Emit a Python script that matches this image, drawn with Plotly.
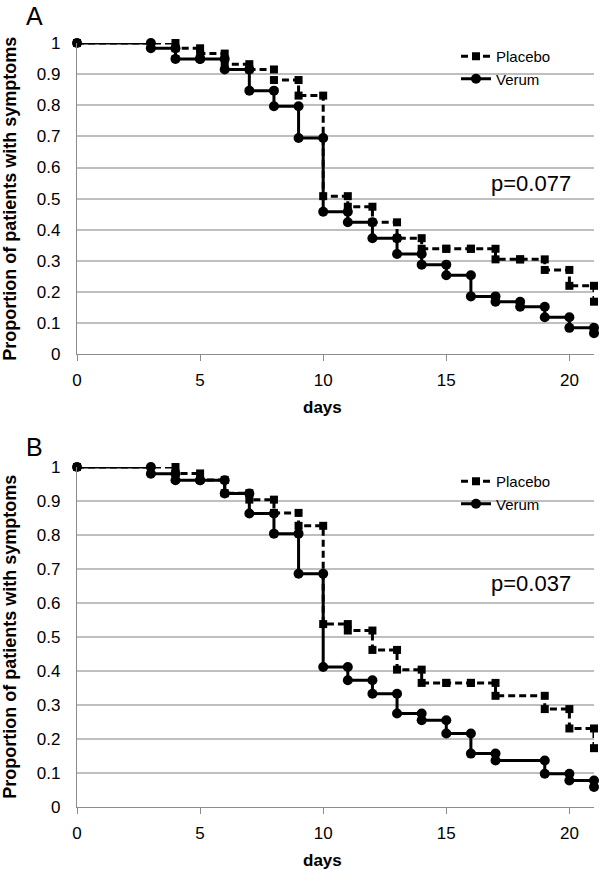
import plotly.graph_objects as go

# ---------------- data ----------------
tick_days = [0, 5, 10, 15, 20]

# Panel A
a_placebo_days = [0, 4, 5, 6, 7, 8, 9, 10, 11, 12, 13, 14, 15, 16, 17, 18, 19, 20, 21]
a_placebo_vals = [1.0, 0.983, 0.966, 0.932, 0.915, 0.881, 0.831, 0.508, 0.474, 0.424,
                  0.373, 0.339, 0.339, 0.339, 0.305, 0.305, 0.271, 0.220, 0.169]
a_verum_days = [0, 3, 4, 5, 6, 7, 8, 9, 10, 11, 12, 13, 14, 15, 16, 17, 18, 19, 20, 21]
a_verum_vals = [1.0, 0.983, 0.949, 0.949, 0.915, 0.847, 0.797, 0.695, 0.458, 0.424,
                0.373, 0.322, 0.288, 0.254, 0.186, 0.169, 0.153, 0.119, 0.085, 0.068]

# Panel B
b_placebo_days = [0, 4, 5, 6, 7, 8, 9, 10, 11, 12, 13, 14, 15, 16, 17, 19, 20, 21]
b_placebo_vals = [1.0, 0.981, 0.962, 0.923, 0.904, 0.865, 0.827, 0.538, 0.519, 0.462,
                  0.404, 0.365, 0.365, 0.365, 0.327, 0.288, 0.231, 0.173]
b_verum_days = [0, 3, 4, 5, 6, 7, 8, 9, 10, 11, 12, 13, 14, 15, 16, 17, 19, 20, 21]
b_verum_vals = [1.0, 0.980, 0.961, 0.961, 0.922, 0.863, 0.804, 0.686, 0.412, 0.373,
                0.333, 0.275, 0.255, 0.216, 0.157, 0.137, 0.098, 0.078, 0.059]

p_text_a = "p=0.077"
p_text_b = "p=0.037"
series_names = ["Placebo", "Verum"]
y_title = "Proportion of patients with symptoms"
x_title = "days"

# ---------------- helpers ----------------
W, H = 600, 869
L, R, T, B = 77, 6, 43, 62
PW, PH = W - L - R, H - T - B


def px_x(px):
    return (px - L) / PW


def px_y(py):
    return (H - B - py) / PH


def steps(days, vals):
    xs, ys = [days[0]], [vals[0]]
    for i in range(1, len(days)):
        xs += [days[i], days[i]]
        ys += [vals[i - 1], vals[i]]
    return xs, ys


FONT = "Liberation Sans, Arial, sans-serif"

fig = go.Figure()

panels = [
    ("x", "y", "legend", a_placebo_days, a_placebo_vals, a_verum_days, a_verum_vals),
    ("x2", "y2", "legend2", b_placebo_days, b_placebo_vals, b_verum_days, b_verum_vals),
]
for xa, ya, lg, pd_, pv, vd, vv in panels:
    x1, y1 = steps(pd_, pv)
    fig.add_trace(go.Scatter(
        x=x1, y=y1, xaxis=xa, yaxis=ya, legend=lg, name=series_names[0],
        mode="lines+markers", cliponaxis=False,
        line=dict(color="black", width=3, dash="7px,4px"),
        marker=dict(symbol="square", size=8, color="black")))
    x2, y2 = steps(vd, vv)
    fig.add_trace(go.Scatter(
        x=x2, y=y2, xaxis=xa, yaxis=ya, legend=lg, name=series_names[1],
        mode="lines+markers", cliponaxis=False,
        line=dict(color="black", width=3),
        marker=dict(symbol="circle", size=10, color="black")))

xaxis_common = dict(range=[0, 21], tickvals=tick_days, showgrid=False, zeroline=False,
                    showline=True, linecolor="#8c8c8c", linewidth=1.3,
                    ticks="outside", ticklen=6, tickcolor="#8c8c8c", tickwidth=1.3,
                    ticklabelstandoff=4, automargin=False,
                    tickfont=dict(family=FONT, size=17, color="black"))
yaxis_common = dict(range=[0, 1], dtick=0.1, showgrid=True, gridcolor="#bfbfbf", gridwidth=1.5,
                    zeroline=False, showline=True, linecolor="#8c8c8c", linewidth=1.3,
                    ticks="", ticklabelstandoff=12, automargin=False,
                    tickfont=dict(family=FONT, size=17, color="black"))

ya_bottom = px_y(354.3)
yb_top = px_y(467)

fig.update_layout(
    width=W, height=H, autosize=False,
    margin=dict(l=L, r=R, t=T, b=B, pad=0),
    paper_bgcolor="white", plot_bgcolor="white",
    font=dict(family=FONT, color="black"),
    xaxis=dict(domain=[0, 1], anchor="y", **xaxis_common),
    yaxis=dict(domain=[ya_bottom, 1], anchor="x", **yaxis_common),
    xaxis2=dict(domain=[0, 1], anchor="y2", **xaxis_common),
    yaxis2=dict(domain=[0, yb_top], anchor="x2", **yaxis_common),
    legend=dict(x=px_x(456), y=px_y(40), xanchor="left", yanchor="top",
                bgcolor="rgba(0,0,0,0)", font=dict(family=FONT, size=15, color="black"),
                tracegroupgap=0),
    legend2=dict(x=px_x(456), y=px_y(465), xanchor="left", yanchor="top",
                 bgcolor="rgba(0,0,0,0)", font=dict(family=FONT, size=15, color="black"),
                 tracegroupgap=0),
    showlegend=True,
)

ann = []
common = dict(showarrow=False, xanchor="center", yanchor="middle")
# panel letters
ann.append(dict(text="A", x=px_x(34), y=px_y(16), xref="paper", yref="paper",
                font=dict(family=FONT, size=25, color="black"), **common))
ann.append(dict(text="B", x=px_x(34), y=px_y(446.7), xref="paper", yref="paper",
                font=dict(family=FONT, size=25, color="black"), **common))
# p-values
ann.append(dict(text=p_text_a, x=18.44, y=0.55, xref="x", yref="y",
                font=dict(family=FONT, size=22, color="black"), **common))
ann.append(dict(text=p_text_b, x=18.44, y=0.657, xref="x2", yref="y2",
                font=dict(family=FONT, size=22, color="black"), **common))
# axis titles
for cy in (198.8, 636.8):
    ann.append(dict(text="<b>%s</b>" % y_title, x=px_x(10), y=px_y(cy), xref="paper",
                    yref="paper", textangle=-90,
                    font=dict(family=FONT, size=18, color="black"), **common))
for cy in (407.5, 860):
    ann.append(dict(text="<b>%s</b>" % x_title, x=px_x(322), y=px_y(cy), xref="paper",
                    yref="paper",
                    font=dict(family=FONT, size=17, color="black"), **common))
fig.update_layout(annotations=ann)

fig.write_html("out.html", config={"displayModeBar": False},
               post_script="document.body.style.margin='0';document.body.style.overflow='hidden';")
